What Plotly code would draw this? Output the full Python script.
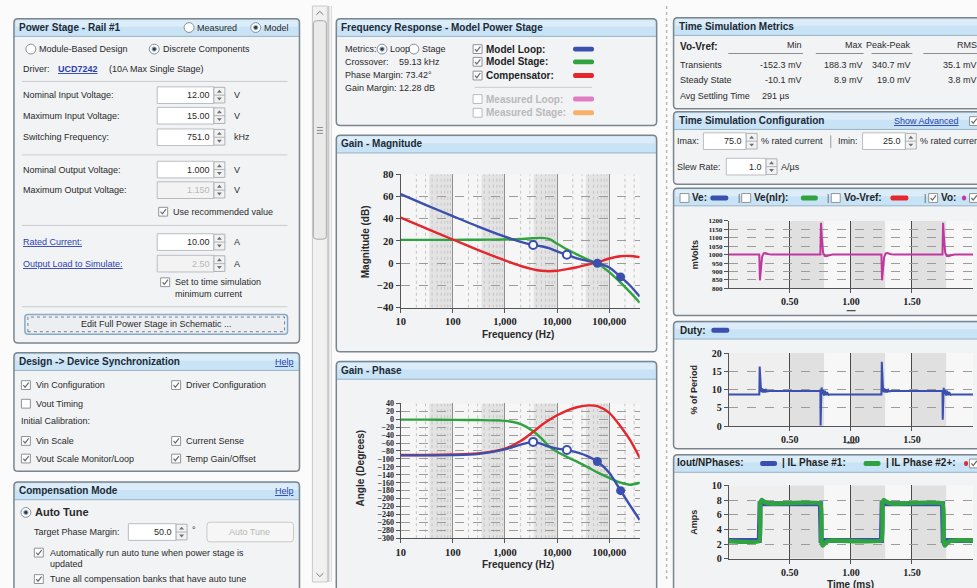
import plotly.graph_objects as go

W, H = 977, 588

# ---------------- Bode data ----------------
freq_hz = [10, 30, 100, 300, 1000, 2000, 3470, 5000, 7000, 10000, 15400,
           25000, 40000, 59130, 100000, 165000, 250000, 384000]
mag_stage_db = [21.0, 21.0, 21.0, 21.1, 21.3, 21.7, 22.4, 22.8, 21.8, 17.5, 12.5,
                7.5, 3.0, -0.2, -8.0, -17.5, -26.0, -35.5]
mag_comp_db = [41.0, 31.5, 21.3, 12.0, 2.5, -2.5, -5.5, -6.8, -7.2, -6.8, -5.3,
               -3.4, -1.0, 0.8, 4.2, 6.3, 6.5, 5.5]
mag_loop_db = [62.0, 52.5, 42.3, 33.1, 23.8, 19.2, 16.4, 15.2, 13.5, 10.7, 7.6,
               4.2, 1.9, 0.0, -3.8, -12.3, -20.0, -30.0]
phase_stage_deg = [-1, -1, -1.5, -2, -4, -12, -30, -48, -68, -82, -95,
                   -108, -122, -134, -148, -160, -165, -160]
phase_comp_deg = [-90, -90, -89, -86, -74, -55, -32, -15, -2, 10, 22,
                  31, 35, 33, 16, -18, -52, -97]
phase_loop_deg = [-91, -91, -90.5, -88, -76, -64, -57, -62, -69, -74, -77.7,
                  -84, -94, -106.6, -135, -180, -217, -254]

marker_freq_hz = [3470, 15400, 59130, 165000]
marker_mag_db = [16.4, 7.6, 0.0, -12.3]
marker_phase_deg = [-57, -77.7, -106.6, -180]

freq_tick_vals = [10, 100, 1000, 10000, 100000]
freq_tick_text = ["10", "100", "1,000", "10,000", "100,000"]

# ---------------- Time simulation data ----------------
time_vo_ms = [0, 0.25, 0.255, 0.262, 0.272, 0.285, 0.30, 0.32, 0.35,
              0.75, 0.755, 0.762, 0.772, 0.785, 0.80, 0.82, 0.85,
              1.25, 1.255, 1.262, 1.272, 1.285, 1.30, 1.32, 1.35,
              1.75, 1.755, 1.762, 1.772, 1.785, 1.80, 1.82, 1.85, 2.0]
vo_mv = [1000, 1000, 848, 905, 985, 1008, 1010, 1004, 1000,
         1000, 1188, 1100, 1012, 993, 991, 996, 1000,
         1000, 848, 905, 985, 1008, 1010, 1004, 1000,
         1000, 1188, 1100, 1012, 993, 991, 996, 1000, 1000]

time_duty_ms = [0, 0.25, 0.253, 0.257, 0.262, 0.268, 0.275, 0.283, 0.29, 0.298, 0.306, 0.315, 0.33,
                0.75, 0.752, 0.756, 0.76, 0.765, 0.772, 0.78, 0.788, 0.796, 0.805, 0.815, 0.83,
                1.25, 1.253, 1.257, 1.262, 1.268, 1.275, 1.283, 1.29, 1.298, 1.306, 1.315, 1.33,
                1.75, 1.752, 1.756, 1.76, 1.765, 1.772, 1.78, 1.788, 1.796, 1.805, 1.815, 1.83,
                2.0]
duty_pct = [8.7, 8.7, 16.3, 11.8, 11.0, 9.3, 10.3, 9.2, 10.1, 9.3, 9.9, 9.5, 9.6,
            9.6, 0.2, 6.3, 10.6, 8.8, 9.9, 8.4, 9.7, 8.5, 9.3, 8.6, 8.7,
            8.7, 17.6, 12.0, 11.0, 9.3, 10.3, 9.2, 10.1, 9.3, 9.9, 9.5, 9.6,
            9.6, 1.8, 6.5, 10.5, 8.8, 9.9, 8.4, 9.7, 8.5, 9.3, 8.6, 8.7,
            8.7]

time_iout_ms = [0, 0.25, 0.256, 0.75, 0.756, 1.25, 1.256, 1.75, 1.756, 2.0]
iout_a = [2.5, 2.5, 7.5, 7.5, 2.5, 2.5, 7.5, 7.5, 2.5, 2.5]
time_il_ms = [0, 0.25, 0.258, 0.27, 0.285, 0.31, 0.35, 0.75, 0.758, 0.77, 0.785, 0.81, 0.85,
              1.25, 1.258, 1.27, 1.285, 1.31, 1.35, 1.75, 1.758, 1.77, 1.785, 1.81, 1.85, 2.0]
il_a = [2.4, 2.4, 7.6, 8.0, 7.8, 7.6, 7.5, 7.5, 2.4, 1.8, 2.1, 2.4, 2.5,
        2.5, 7.6, 8.0, 7.8, 7.6, 7.5, 7.5, 2.4, 1.8, 2.1, 2.4, 2.5, 2.5]

time_tick_vals = [0.5, 1.0, 1.5]
time_tick_text = ["0.50", "1.00", "1.50"]

# ---------------- colours / fonts ----------------
BLUE = "#3b4fae"
GREEN = "#2fa33f"
RED = "#e5262c"
MAGENTA = "#c0379f"
UI = "Liberation Sans"
TF = "Liberation Serif"
TXT = "#2a2a2a"
LINK = "#2b3fb0"
FS = 9

shapes = []
annotations = []


def X(px):
    return px / W


def Y(py):
    return 1 - py / H


def P(x, y):
    return f"{X(x):.5f},{Y(y):.5f}"


def _line(color, lw, dash="solid"):
    if color is None:
        return dict(color="rgba(0,0,0,0)", width=0)
    return dict(color=color, width=lw, dash=dash)


def rect(x0, y0, x1, y1, fill="rgba(0,0,0,0)", line=None, lw=1, dash="solid"):
    shapes.append(dict(type="rect", xref="paper", yref="paper", x0=X(x0), x1=X(x1),
                       y0=Y(y1), y1=Y(y0), fillcolor=fill, line=_line(line, lw, dash),
                       layer="below"))


def hline(x0, x1, y, color="#c9ccd0", lw=1, dash="solid"):
    shapes.append(dict(type="line", xref="paper", yref="paper", x0=X(x0), x1=X(x1),
                       y0=Y(y), y1=Y(y), line=_line(color, lw, dash), layer="below"))


def vline(x, y0, y1, color="#c9ccd0", lw=1, dash="solid"):
    shapes.append(dict(type="line", xref="paper", yref="paper", x0=X(x), x1=X(x),
                       y0=Y(y0), y1=Y(y1), line=_line(color, lw, dash), layer="below"))


def path(d, fill="rgba(0,0,0,0)", line=None, lw=1, dash="solid"):
    shapes.append(dict(type="path", xref="paper", yref="paper", path=d,
                       fillcolor=fill, line=_line(line, lw, dash), layer="below"))


def rrect(x0, y0, x1, y1, r=3, fill="rgba(0,0,0,0)", line=None, lw=1, top_only=False, dash="solid"):
    if top_only:
        d = (f"M {P(x0, y1)} L {P(x0, y0 + r)} Q {P(x0, y0)} {P(x0 + r, y0)} "
             f"L {P(x1 - r, y0)} Q {P(x1, y0)} {P(x1, y0 + r)} L {P(x1, y1)} Z")
    else:
        d = (f"M {P(x0 + r, y0)} L {P(x1 - r, y0)} Q {P(x1, y0)} {P(x1, y0 + r)} "
             f"L {P(x1, y1 - r)} Q {P(x1, y1)} {P(x1 - r, y1)} L {P(x0 + r, y1)} "
             f"Q {P(x0, y1)} {P(x0, y1 - r)} L {P(x0, y0 + r)} Q {P(x0, y0)} {P(x0 + r, y0)} Z")
    path(d, fill, line, lw, dash)


def circle(cx, cy, r, fill, line=None, lw=1):
    shapes.append(dict(type="circle", xref="paper", yref="paper", x0=X(cx - r), x1=X(cx + r),
                       y0=Y(cy + r), y1=Y(cy - r), fillcolor=fill, line=_line(line, lw),
                       layer="below"))


def txt(x, y, s, size=FS, color=TXT, bold=False, anchor="left", family=UI, angle=0, under=False):
    font = dict(family=family, size=size, color=color)
    if bold:
        font["weight"] = "bold"
    if under:
        font["lineposition"] = "under"
    annotations.append(dict(xref="paper", yref="paper", x=X(x), y=Y(y), text=s, showarrow=False,
                            xanchor=anchor, yanchor="middle", font=font, textangle=angle,
                            borderpad=0))


def radio(cx, cy, sel):
    circle(cx, cy, 5, "#ffffff", "#8b8f94", 1)
    if sel:
        circle(cx, cy, 2.2, "#3a3a3a", "#7fb2d6", 1)


def checkbox(cx, cy, checked, disabled=False):
    rect(cx - 4.5, cy - 4.5, cx + 4.5, cy + 4.5, "#ffffff", "#b8bcc0" if disabled else "#8f9396", 1)
    if checked:
        path(f"M {P(cx - 2.6, cy)} L {P(cx - 0.8, cy + 2.2)} L {P(cx + 2.8, cy - 2.6)}",
             "rgba(0,0,0,0)", "#6a6a6a", 1.2)


def spinner(x, cy, h=16):
    rect(x, cy - h / 2, x + 11, cy + h / 2, "#f2f2f2", "#aeb2b6", 1)
    hline(x, x + 11, cy, "#aeb2b6", 1)
    path(f"M {P(x + 5.5, cy - 5.5)} L {P(x + 3, cy - 2.5)} L {P(x + 8, cy - 2.5)} Z", "#707070", None)
    path(f"M {P(x + 5.5, cy + 5.5)} L {P(x + 3, cy + 2.5)} L {P(x + 8, cy + 2.5)} Z", "#707070", None)


def inbox(x0, x1, cy, val, disabled=False, h=17):
    rect(x0, cy - h / 2, x1, cy + h / 2, "#f3f3f3" if disabled else "#ffffff", "#b9bdc2", 1)
    txt(x1 - 3, cy, val, color="#b8b8b8" if disabled else TXT, anchor="right")
    spinner(x1, cy, h - 1)


def swatch(x0, x1, cy, color):
    rrect(x0, cy - 2.5, x1, cy + 2.5, 2, color, None)


def panel(x0, y0, x1, y1, th=18):
    rrect(x0, y0, x1, y1, 4, "#f2f3f5")
    rrect(x0, y0, x1, y0 + th, 4, "#c7e3f5", top_only=True)
    rect(x0 + 2, y0 + 1.5, x1 - 2, y0 + th * 0.45, "#dcedf9")
    hline(x0, x1, y0 + th, "#98b2c4", 1)
    rrect(x0, y0, x1, y1, 4, "rgba(0,0,0,0)", "#7b858e", 1.5)


# ============ LEFT COLUMN ============
panel(9, 13, 296, 344)
txt(13, 22, "Power Stage - Rail #1", size=10, bold=True, color="#1c2a38")
radio(185, 22, False); txt(192, 22, "Measured")
radio(252, 22, True); txt(259, 22, "Model")
radio(26, 44, False); txt(33, 44, "Module-Based Design")
radio(150, 44, True); txt(158, 44, "Discrete Components")
txt(17, 64, "Driver:")
txt(52, 64, "UCD7242", bold=True, color=LINK, under=True)
txt(104, 64, "(10A Max Single Stage)")
hline(17, 284, 77)
rows = [("Nominal Input Voltage:", 91, "12.00", "V", False),
        ("Maximum Input Voltage:", 112, "15.00", "V", False),
        ("Switching Frequency:", 134, "751.0", "kHz", False),
        ("Nominal Output Voltage:", 167, "1.000", "V", False),
        ("Maximum Output Voltage:", 188, "1.150", "V", True)]
for lab, yy, val, unit, dis in rows:
    txt(17, yy, lab)
    inbox(153, 210, yy, val, dis)
    txt(229, yy, unit)
hline(17, 284, 152)
checkbox(159, 210, True); txt(168, 210, "Use recommended value")
hline(17, 284, 224)
txt(17, 241, "Rated Current:", color=LINK, under=True)
inbox(153, 210, 241, "10.00")
txt(229, 241, "A")
txt(17, 263, "Output Load to Simulate:", color=LINK, under=True)
inbox(153, 210, 263, "2.50", True)
txt(229, 263, "A")
checkbox(161, 282, True); txt(170, 282, "Set to time simulation"); txt(170, 294, "minimum current")
hline(17, 284, 307)
rrect(20, 315, 284, 335, 3, "#eceef1", "#86aacb", 1.5)
rect(23, 317.5, 281, 332.5, "rgba(0,0,0,0)", "#5a6470", 0.8, "dot")
txt(152, 325, "Edit Full Power Stage in Schematic ...", anchor="center")

panel(9, 354, 296, 475)
txt(13, 363, "Design -&gt; Device Synchronization", size=10, bold=True, color="#1c2a38")
txt(291, 363, "Help", color=LINK, anchor="right", under=True)
checkbox(21, 387, True); txt(30, 387, "Vin Configuration")
checkbox(172, 387, True); txt(181, 387, "Driver Configuration")
checkbox(21, 406, False); txt(30, 406, "Vout Timing")
txt(15, 424, "Initial Calibration:")
checkbox(21, 444, True); txt(30, 444, "Vin Scale")
checkbox(172, 444, True); txt(181, 444, "Current Sense")
checkbox(21, 462, True); txt(30, 462, "Vout Scale Monitor/Loop")
checkbox(172, 462, True); txt(181, 462, "Temp Gain/Offset")

panel(9, 486, 296, 610)
txt(13, 495, "Compensation Mode", size=10, bold=True, color="#1c2a38")
txt(291, 495, "Help", color=LINK, anchor="right", under=True)
radio(21, 517, True); txt(29, 517, "Auto Tune", bold=True, size=11)
txt(28, 537, "Target Phase Margin:")
inbox(124, 172, 537, "50.0")
txt(187, 535, "°")
rrect(203, 527, 290, 547, 3, "#f6f6f6", "#c9c9c9", 1)
txt(246, 537, "Auto Tune", color="#b8b8b8", anchor="center")
checkbox(34, 558, True); txt(44, 558, "Automatically run auto tune when power stage is")
txt(44, 570, "updated")
checkbox(34, 585, True); txt(44, 585, "Tune all compensation banks that have auto tune")

# scrollbar + splitters
rect(309, 0, 324, 588, "#f1f1f1", "#c9c9c9", 1)
rrect(310, 15, 323, 238, 3, "#eaeaea", "#a9a9a9", 1)
for gy in (124, 127, 130):
    hline(313.5, 319.5, gy, "#8a8a8a", 1)
path(f"M {P(313, 9)} L {P(316.5, 5.5)} L {P(320, 9)}", "rgba(0,0,0,0)", "#777", 1)
path(f"M {P(313, 579)} L {P(316.5, 582.5)} L {P(320, 579)}", "rgba(0,0,0,0)", "#777", 1)
vline(325.5, 0, 588, "#b4b4b4", 1)
vline(328, 0, 588, "#d4d4d4", 1)
vline(665, 0, 588, "#b9b9b9", 1.5, "dot")

# ============ MIDDLE COLUMN ============
panel(333, 13, 655, 122)
txt(337, 21.5, "Frequency Response - Model Power Stage", size=10, bold=True, color="#1c2a38")
txt(341, 44, "Metrics:")
radio(379, 44, True); txt(386, 44, "Loop")
radio(411, 44, False); txt(418, 44, "Stage")
txt(341, 57, "Crossover:"); txt(395, 57, "59.13 kHz")
txt(341, 70, "Phase Margin: 73.42°")
txt(341, 84, "Gain Margin:"); txt(395, 84, "12.28 dB")
legend_rows = [("Model Loop:", 44, BLUE, True, False),
               ("Model Stage:", 57, GREEN, True, False),
               ("Compensator:", 71, RED, True, False),
               ("Measured Loop:", 95, "#e07cc3", False, True),
               ("Measured Stage:", 109, "#f6b06c", False, True)]
for lab, yy, col, chk, dis in legend_rows:
    checkbox(475, yy, chk, dis)
    txt(482, yy, lab, size=10, bold=True, color="#b9b9b9" if dis else "#1f1f1f")
    swatch(571, 592, yy, col)
hline(472, 590, 83)

panel(333, 132, 655, 353)
txt(337, 140.5, "Gain - Magnitude", size=10, bold=True, color="#1c2a38")
rect(397.7, 171.7, 638, 308, "#f6f6f6")
txt(362, 241, "Magnitude (dB)", bold=True, angle=-90, anchor="center", size=10)
txt(516, 335, "Frequency (Hz)", bold=True, anchor="center", size=10)

panel(333, 363, 655, 610)
txt(337, 372, "Gain - Phase", size=10, bold=True, color="#1c2a38")
rect(397.7, 405.7, 638, 543.3, "#f6f6f6")
txt(357, 472, "Angle (Degrees)", bold=True, angle=-90, anchor="center", size=10)
txt(516, 570, "Frequency (Hz)", bold=True, anchor="center", size=10)

# ============ RIGHT COLUMN ============
panel(672, 12, 995, 105)
txt(676, 20.5, "Time Simulation Metrics", size=10, bold=True, color="#1c2a38")
txt(677, 41, "Vo-Vref:", size=10, bold=True, color="#1f1f1f")
col_right = [802, 863, 912, 978]
headers = ["Min", "Max", "Peak-Peak", "RMS"]
under_x = [(727, 802), (815, 863), (871, 912), (923, 980)]
for xr, hd, (ua, ub) in zip(col_right, headers, under_x):
    txt(xr, 40, hd, anchor="right")
    hline(ua, ub, 48.5, "#8d8d8d", 1)
table_rows = [("Transients", 60, ["-152.3 mV", "188.3 mV", "340.7 mV", "35.1 mV"]),
              ("Steady State", 76, ["-10.1 mV", "8.9 mV", "19.0 mV", "3.8 mV"])]
for lab, yy, vals in table_rows:
    txt(677, yy, lab)
    for xr, v in zip(col_right, vals):
        txt(xr, yy, v, anchor="right")
txt(677, 92, "Avg Settling Time")
txt(760, 92, "291 µs")

panel(672, 108, 995, 182)
txt(676, 117, "Time Simulation Configuration", size=10, bold=True, color="#1c2a38")
txt(893, 117.5, "Show Advanced", color=LINK, under=True)
checkbox(974, 117.5, True)
txt(674, 138, "Imax:")
inbox(702, 745, 138, "75.0")
txt(759, 138, "% rated current")
vline(830, 132, 145, "#9a9a9a", 1)
txt(836, 138, "Imin:")
inbox(862, 905, 138, "25.0")
txt(919, 138, "% rated current")
txt(674, 164, "Slew Rate:")
inbox(725, 765, 164, "1.0")
txt(779, 164, "A/µs")

# Vo chart panel
panel(672, 186, 995, 316)
checkbox(683, 196, False); txt(690, 195.5, "Ve:", size=10, bold=True, color="#1f1f1f")
swatch(709, 727, 196, BLUE)
txt(736, 195.5, "|", color="#555")
checkbox(745, 196, False); txt(752, 195.5, "Ve(nlr):", size=10, bold=True, color="#1f1f1f")
swatch(800, 817, 196, GREEN)
txt(825, 195.5, "|", color="#555")
checkbox(835, 196, False); txt(842, 195.5, "Vo-Vref:", size=10, bold=True, color="#1f1f1f")
swatch(890, 908, 196, RED)
txt(923, 195.5, "|", color="#555")
checkbox(933, 196, True); txt(940, 195.5, "Vo:", size=10, bold=True, color="#1f1f1f")
swatch(962, 966, 196, MAGENTA)
checkbox(974, 196, True)
rect(727.5, 219.3, 973, 288.3, "#f7f7f7")
txt(693, 254, "mVolts", bold=True, angle=-90, anchor="center", size=9)
hline(846, 855, 311, "#444", 1.2)

# Duty chart panel
panel(672, 322, 995, 452)
txt(677, 331, "Duty:", size=10, bold=True, color="#1f1f1f")
swatch(710, 728, 331, BLUE)
rect(727.5, 354.3, 973, 429, "#f7f7f7")
txt(693, 391, "% of Period", bold=True, angle=-90, anchor="center", size=9)
hline(846, 855, 446, "#444", 1.2)

# Iout chart panel
panel(672, 458, 995, 610)
txt(674, 466.5, "Iout/NPhases:", size=10, bold=True, color="#1f1f1f")
swatch(759, 776, 467, BLUE)
txt(780, 466.5, "| IL Phase #1:", size=10, bold=True, color="#1f1f1f")
swatch(863, 880, 467, GREEN)
txt(885, 466.5, "| IL Phase #2+:", size=10, bold=True, color="#1f1f1f")
swatch(964, 968, 467, RED)
checkbox(974, 467, True)
rect(727.5, 489.3, 973, 564.3, "#f7f7f7")
txt(693, 527, "Amps", bold=True, angle=-90, anchor="center", size=9)
txt(850, 591, "Time (ms)", bold=True, anchor="center", size=10)

# ---- plot-area decorations bound to axes ----
for xa, ya, y0, y1 in (("x", "y", -40, 80), ("x2", "y2", -300, 40)):
    for n in range(1, 5):
        shapes.append(dict(type="rect", xref=xa, yref=ya, x0=10 ** (n + 0.55), x1=10 ** (n + 1),
                           y0=y0, y1=y1, fillcolor="#e3e3e3", line=dict(width=0), layer="below"))
    for n in range(1, 6):
        for k in range(2, 10):
            f = k * 10 ** n
            if f < 384000:
                shapes.append(dict(type="line", xref=xa, yref=ya, x0=f, x1=f, y0=y0, y1=y1,
                                   line=dict(color="#c4c4c4", width=1, dash="dot"), layer="below"))

for xa, ya, y0, y1 in (("x3", "y3", 800, 1200), ("x4", "y4", 0, 20), ("x5", "y5", 0, 10)):
    for a, b in ((0.5, 0.78), (1.0, 1.28), (1.5, 1.78)):
        shapes.append(dict(type="rect", xref=xa, yref=ya, x0=a, x1=b, y0=y0, y1=y1,
                           fillcolor="#e0e0e0", line=dict(width=0), layer="below"))
    shapes.append(dict(type="rect", xref=xa, yref=ya, x0=0, x1=0.5, y0=y0, y1=y1,
                       fillcolor="#efefef", line=dict(width=0), layer="below"))

# ---------------- traces ----------------
fig = go.Figure()
for ya, xa, series in (("y", "x", (mag_stage_db, mag_comp_db, mag_loop_db)),
                       ("y2", "x2", (phase_stage_deg, phase_comp_deg, phase_loop_deg))):
    for vals, col, nm in zip(series, (GREEN, RED, BLUE), ("Model Stage", "Compensator", "Model Loop")):
        fig.add_trace(go.Scatter(x=freq_hz, y=vals, xaxis=xa, yaxis=ya, mode="lines", name=nm,
                                 line=dict(color=col, width=2.4, shape="spline", smoothing=0.7)))

fig.add_trace(go.Scatter(x=marker_freq_hz[:2], y=marker_mag_db[:2], xaxis="x", yaxis="y", mode="markers",
                         marker=dict(color="#ffffff", size=8, line=dict(color=BLUE, width=2))))
fig.add_trace(go.Scatter(x=marker_freq_hz[2:], y=marker_mag_db[2:], xaxis="x", yaxis="y", mode="markers",
                         marker=dict(color=BLUE, size=9)))
fig.add_trace(go.Scatter(x=marker_freq_hz[:2], y=marker_phase_deg[:2], xaxis="x2", yaxis="y2", mode="markers",
                         marker=dict(color="#ffffff", size=8, line=dict(color=BLUE, width=2))))
fig.add_trace(go.Scatter(x=marker_freq_hz[2:], y=marker_phase_deg[2:], xaxis="x2", yaxis="y2", mode="markers",
                         marker=dict(color=BLUE, size=9)))

fig.add_trace(go.Scatter(x=time_vo_ms, y=vo_mv, xaxis="x3", yaxis="y3", mode="lines",
                         line=dict(color=MAGENTA, width=2)))
fig.add_trace(go.Scatter(x=time_duty_ms, y=duty_pct, xaxis="x4", yaxis="y4", mode="lines",
                         line=dict(color=BLUE, width=2)))
fig.add_trace(go.Scatter(x=time_iout_ms, y=iout_a, xaxis="x5", yaxis="y5", mode="lines",
                         line=dict(color=BLUE, width=5)))
fig.add_trace(go.Scatter(x=time_il_ms, y=il_a, xaxis="x5", yaxis="y5", mode="lines",
                         line=dict(color=GREEN, width=4.5, shape="spline", smoothing=0.3)))

# ---------------- axes ----------------
def xbase(dom, anchor, big=True):
    return dict(domain=dom, anchor=anchor, showline=True, linecolor="#555", linewidth=1,
                ticks="outside", ticklen=4, tickcolor="#555", zeroline=False, showgrid=True,
                tickfont=dict(family=TF, size=10.5 if big else 10, color="#222", weight="bold"))


def ybase(dom, anchor, size):
    return dict(domain=dom, anchor=anchor, showline=True, linecolor="#555", linewidth=1,
                ticks="outside", ticklen=4, tickcolor="#555", zeroline=False, showgrid=True,
                gridcolor="#9c9c9c", griddash="dash", gridwidth=1,
                tickfont=dict(family=TF, size=size, color="#222", weight="bold"))


bx = [X(397.7), X(638)]
tx = [X(727.5), X(973)]
xa1 = xbase(bx, "y"); xa1.update(type="log", range=[1, 5.5843], tickvals=freq_tick_vals,
                                 ticktext=freq_tick_text, gridcolor="#8f8f8f")
xa2 = xbase(bx, "y2"); xa2.update(type="log", range=[1, 5.5843], tickvals=freq_tick_vals,
                                  ticktext=freq_tick_text, gridcolor="#8f8f8f")
ya1 = ybase([Y(308), Y(171.7)], "x", 10.5); ya1.update(range=[-40, 80], tick0=0, dtick=20)
ya2 = ybase([Y(543.3), Y(405.7)], "x2", 8); ya2.update(range=[-300, 40], tick0=0, dtick=20)

xa3 = xbase(tx, "y3", False)
xa4 = xbase(tx, "y4", False)
xa5 = xbase(tx, "y5", False)
for a in (xa3, xa4, xa5):
    a.update(range=[0, 2.0], tickvals=time_tick_vals, ticktext=time_tick_text,
             gridcolor="#4a4a4a", gridwidth=1.3)
ya3 = ybase([Y(288.3), Y(219.3)], "x3", 7); ya3.update(range=[800, 1200], tick0=800, dtick=50)
ya4 = ybase([Y(429), Y(354.3)], "x4", 10); ya4.update(range=[0, 20], tick0=0, dtick=5)
ya5 = ybase([Y(564.3), Y(489.3)], "x5", 10); ya5.update(range=[0, 10], tick0=0, dtick=2)

fig.update_layout(
    width=W, height=H, margin=dict(l=0, r=0, t=0, b=0),
    paper_bgcolor="#fbfbfb", plot_bgcolor="rgba(0,0,0,0)", showlegend=False,
    xaxis=xa1, yaxis=ya1, xaxis2=xa2, yaxis2=ya2,
    xaxis3=xa3, yaxis3=ya3, xaxis4=xa4, yaxis4=ya4, xaxis5=xa5, yaxis5=ya5,
    shapes=shapes, annotations=annotations, hovermode=False,
)

fig.write_html("out.html", config={"displayModeBar": False},
               post_script="document.body.style.margin='0px';document.body.style.overflow='hidden';")
